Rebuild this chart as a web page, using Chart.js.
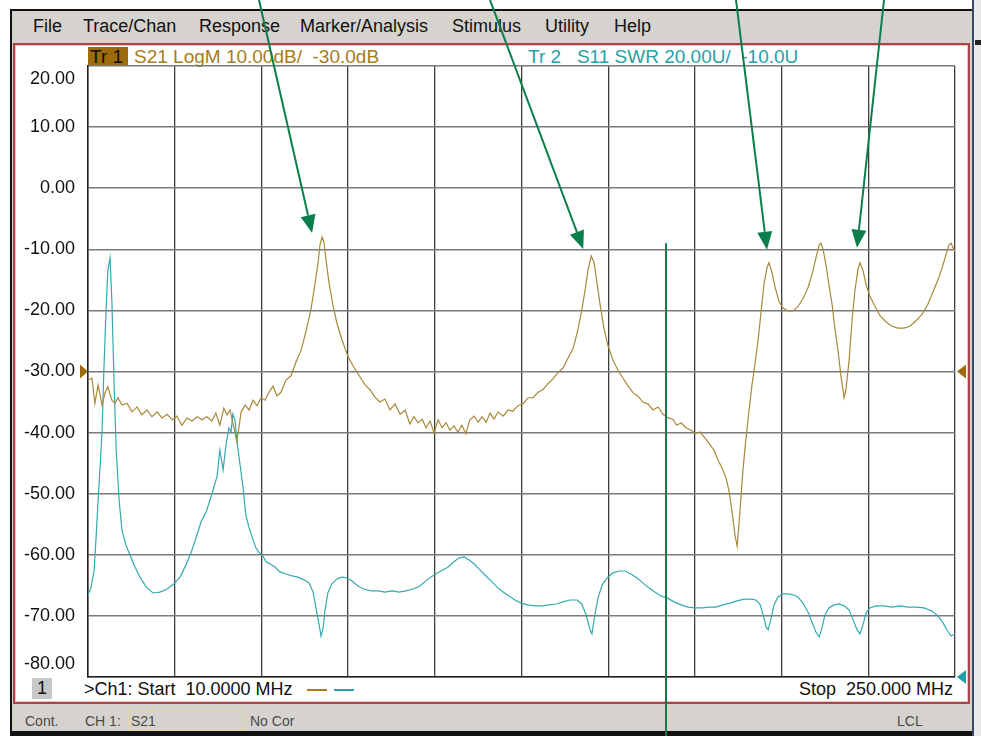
<!DOCTYPE html>
<html>
<head>
<meta charset="utf-8">
<script src="https://cdn.jsdelivr.net/npm/chart.js@4.4.1/dist/chart.umd.min.js"></script>
<style>
  html, body { margin: 0; padding: 0; background: #fff; }
  body { width: 981px; height: 736px; position: relative; overflow: hidden;
         font-family: "Liberation Sans", Arial, sans-serif; }
  .abs { position: absolute; white-space: pre; }
  #frame { left: 10px; top: 9px; width: 963px; height: 727px; background: #d6d3ce;
           border-top: 2px solid #111; border-left: 2px solid #111; border-bottom: 5px solid #111;
           box-sizing: border-box; }
  #rightStrip { left: 972px; top: 0; width: 9px; height: 736px; background: #e9e9e9;
                border-left: 2px solid #3a4a66; box-sizing: border-box; }
  #rightNub { left: 975px; top: 40px; width: 6px; height: 5px; background: #222; }
  .menu { top: 15px; font-size: 18px; line-height: 22px; color: #111; }
  #panel { left: 13px; top: 43px; width: 957px; height: 661px; background: #fff;
           border: 2px solid #a84646; box-shadow: inset 0 0 0 1px #e6c4c4; box-sizing: border-box; }
  .hdr { top: 46px; font-size: 19px; line-height: 21px; }
  #tr1box { left: 88px; top: 47px; width: 40px; height: 19px; background: #9c6c0c; }
  .status { top: 711px; font-size: 14px; line-height: 20px; color: #4a4a4a; }
  #s21box { left: 128px; top: 711px; width: 116px; height: 20px; border: 1px solid #e4dc98;
            box-sizing: border-box; }
  #chbox { left: 32px; top: 678px; width: 20px; height: 21px; background: #c8c8c8;
           font-size: 18px; line-height: 21px; text-align: center; color: #111; }
  .foot { top: 679px; font-size: 18px; line-height: 21px; color: #111; }
  .swatch { top: 689px; width: 20px; height: 2px; }
  #chart { position: absolute; left: 0; top: 0; }
</style>
</head>
<body>
<div id="frame" class="abs"></div>
<div id="rightStrip" class="abs"></div>
<div id="rightNub" class="abs"></div>

<div class="abs menu" style="left:33px">File</div>
<div class="abs menu" style="left:83px">Trace/Chan</div>
<div class="abs menu" style="left:199px">Response</div>
<div class="abs menu" style="left:300px">Marker/Analysis</div>
<div class="abs menu" style="left:452px">Stimulus</div>
<div class="abs menu" style="left:545px">Utility</div>
<div class="abs menu" style="left:614px">Help</div>

<div id="panel" class="abs"></div>

<div id="tr1box" class="abs"></div>
<div class="abs hdr" style="left:90px;color:#111">Tr 1</div>
<div class="abs hdr" style="left:134px;color:#a67c1c">S21 LogM 10.00dB/  -30.0dB</div>
<div class="abs hdr" style="left:528px;color:#27a0a6">Tr 2   S11 SWR 20.00U/  -10.0U</div>

<div id="chbox" class="abs">1</div>
<div class="abs foot" style="left:84px">&gt;Ch1: Start  10.0000 MHz</div>
<div class="abs swatch" style="left:307px;background:#a67c1c"></div>
<div class="abs swatch" style="left:334px;background:#27a0a6"></div>
<div class="abs foot" style="right:28px">Stop  250.000 MHz</div>

<div class="abs status" style="left:25px">Cont.</div>
<div class="abs status" style="left:85px">CH 1:</div>
<div id="s21box" class="abs"></div>
<div class="abs status" style="left:131px">S21</div>
<div class="abs status" style="left:250px">No Cor</div>
<div class="abs status" style="left:897px">LCL</div>

<canvas id="chart" width="981" height="736"></canvas>

<script>
// Sweep settings
const startMHz = 10;
const stopMHz = 250;
const freqStepMHz = 24;

// Tr 1: S21 LogM (dB)
const freqS21 = [
  10.0,11.1,11.9,12.8,13.9,14.7,15.5,16.6,17.5,18.3,
  19.4,20.8,22.2,23.6,24.9,26.3,27.7,29.1,30.5,31.9,
  33.3,34.6,36.0,37.4,38.8,40.2,41.6,42.9,44.3,45.4,
  46.5,47.6,48.5,49.3,50.4,51.2,52.4,53.5,54.6,55.7,
  56.8,57.9,59.0,60.1,61.2,62.3,63.4,64.8,66.2,67.6,
  69.0,70.3,71.7,72.8,73.7,74.2,74.8,75.3,75.9,76.7,
  77.8,78.9,80.3,82.0,83.6,85.3,86.7,88.1,89.4,90.8,
  92.2,93.6,95.0,96.4,97.8,99.1,100.2,101.4,102.5,103.6,
  104.7,105.8,106.9,108.0,109.1,110.2,111.3,112.4,113.5,114.6,
  115.7,116.9,118.0,119.1,120.2,121.3,122.4,123.5,124.9,126.3,
  127.6,129.0,130.4,131.8,133.2,134.6,135.9,137.3,138.7,140.1,
  141.5,142.9,144.3,145.6,146.7,147.6,148.4,149.3,150.1,150.9,
  151.7,152.8,153.9,155.3,156.7,158.1,159.5,160.9,162.2,163.6,
  165.0,166.4,167.8,169.2,170.6,171.9,173.0,174.2,175.5,176.9,
  178.3,179.4,180.8,182.2,183.3,184.4,185.5,186.6,187.4,188.3,
  189.1,189.7,190.5,191.3,192.1,193.0,193.8,194.6,195.5,196.3,
  197.1,198.0,198.5,199.3,200.2,201.3,202.4,203.8,205.2,206.5,
  207.9,209.3,210.4,211.5,212.4,212.9,213.5,214.3,215.1,216.0,
  216.8,217.6,218.4,219.3,219.8,220.7,221.5,222.3,223.2,223.7,
  224.5,225.4,226.4,227.9,229.2,230.9,232.6,234.2,235.9,237.5,
  239.2,240.9,242.5,243.9,245.3,246.4,247.5,248.3,248.9,250.0
];
const s21dB = [
  -31.4,-31.1,-35.2,-32.2,-35.5,-33.5,-32.5,-34.7,-35.2,-34.3,
  -35.5,-35.2,-36.6,-35.8,-37.1,-36.3,-37.4,-36.6,-37.6,-37.0,
  -37.9,-37.3,-38.8,-37.6,-38.1,-37.4,-37.9,-37.4,-38.1,-36.8,
  -38.8,-36.0,-37.1,-36.3,-39.2,-41.5,-36.6,-35.5,-36.3,-34.7,
  -35.6,-34.3,-34.7,-33.4,-32.4,-34.0,-33.4,-31.4,-30.7,-28.4,
  -26.5,-23.5,-19.9,-15.8,-12.1,-9.3,-8.0,-8.8,-11.8,-15.4,
  -19.1,-22.1,-24.8,-27.6,-29.3,-30.9,-32.2,-33.0,-34.2,-35.0,
  -34.5,-36.3,-35.3,-37.0,-36.3,-38.6,-37.4,-38.4,-37.8,-39.2,
  -38.1,-40.1,-37.9,-39.2,-38.4,-39.6,-38.9,-39.9,-38.8,-40.2,
  -37.9,-37.3,-38.3,-37.4,-38.3,-36.8,-37.8,-36.6,-37.3,-36.3,
  -36.5,-35.6,-35.3,-34.3,-34.3,-33.4,-33.0,-32.0,-31.2,-30.2,
  -29.4,-27.8,-26.2,-23.2,-19.9,-16.7,-13.4,-11.1,-12.2,-15.5,
  -18.8,-22.9,-25.7,-28.1,-29.8,-31.1,-32.4,-33.5,-34.0,-35.0,
  -35.3,-36.3,-35.8,-37.0,-37.6,-37.8,-38.8,-38.4,-39.2,-39.6,
  -40.1,-39.9,-40.9,-42.0,-42.9,-44.5,-45.8,-47.4,-49.4,-53.0,
  -56.8,-58.6,-52.7,-46.1,-41.2,-36.3,-32.2,-28.9,-24.8,-20.3,
  -15.8,-12.9,-12.2,-13.7,-16.2,-18.6,-19.6,-20.1,-20.1,-19.4,
  -18.1,-16.3,-14.2,-11.4,-9.3,-9.0,-10.1,-12.6,-15.8,-19.1,
  -23.2,-26.5,-30.6,-34.3,-33.0,-28.1,-21.6,-16.7,-13.1,-12.2,
  -13.4,-15.8,-17.6,-19.4,-20.8,-21.9,-22.6,-22.9,-22.9,-22.6,
  -21.7,-20.6,-19.0,-17.0,-15.0,-13.1,-10.9,-9.3,-9.0,-10.4
];

// Tr 2: S11 SWR (U)
const freqS11 = [
  10.0,10.8,11.7,12.2,12.8,13.3,13.9,14.4,15.0,15.5,
  16.1,16.6,17.2,17.8,18.6,19.4,20.5,21.6,23.0,24.4,
  26.1,28.0,29.9,31.9,33.8,35.5,37.1,38.5,39.9,41.3,
  42.7,43.8,44.6,45.7,46.5,47.4,48.2,49.0,49.6,50.1,
  50.7,51.2,52.1,52.9,53.7,54.6,55.7,56.5,57.3,58.4,
  59.3,60.4,61.8,63.1,64.8,66.5,68.1,69.8,71.2,72.3,
  73.1,74.0,74.5,75.1,75.6,76.4,77.5,78.9,80.3,81.7,
  83.1,84.7,86.4,88.3,90.3,92.2,94.2,96.1,98.0,100.0,
  101.9,103.8,105.8,107.7,109.7,111.3,112.7,114.1,115.5,116.9,
  118.2,119.9,121.6,123.2,124.9,126.5,128.2,129.9,131.8,133.7,
  135.7,137.6,139.6,141.5,143.4,145.4,146.7,147.9,149.0,149.5,
  150.3,151.2,152.3,153.7,155.3,157.0,158.6,160.3,162.0,163.6,
  165.3,166.9,168.6,170.3,172.2,174.2,176.1,178.0,180.0,181.9,
  183.8,185.8,187.7,189.7,191.6,193.5,194.9,196.0,196.9,197.7,
  198.3,199.1,199.9,201.0,202.4,203.8,205.2,206.5,207.9,209.3,
  210.4,211.5,212.4,213.2,214.0,215.1,216.5,217.9,219.3,220.7,
  221.8,222.9,223.7,224.5,225.4,226.4,228.1,230.3,232.6,234.8,
  237.0,239.2,241.4,243.6,245.3,246.7,247.8,248.9,250.0
];
const s11SWR = [
  16.9,19.1,25.0,34.9,48.0,57.8,70.9,90.5,110.1,123.2,
  127.2,113.4,87.2,64.3,48.0,38.1,33.2,30.0,26.0,22.7,
  19.5,17.5,17.8,18.8,20.5,22.7,26.7,30.6,35.5,40.8,
  44.0,48.0,51.2,55.5,64.3,57.8,66.0,71.5,70.2,76.1,
  74.1,67.6,59.4,52.2,43.0,38.8,34.9,32.2,30.9,29.6,
  27.7,27.0,26.0,24.4,23.7,23.1,22.7,21.8,20.8,17.8,
  12.6,7.0,3.4,6.1,11.9,17.5,20.5,22.1,22.7,22.4,
  21.4,19.8,18.8,18.2,18.2,17.8,18.2,17.8,18.2,18.8,
  19.8,21.8,23.4,24.7,26.0,27.7,29.0,29.3,28.3,27.0,
  25.4,23.4,21.4,19.5,17.8,16.5,15.2,14.2,13.6,13.3,
  13.3,13.6,13.9,14.6,15.2,15.2,13.9,10.3,5.4,4.1,
  10.3,15.9,20.1,22.4,24.1,24.7,24.7,23.7,22.4,20.8,
  19.1,17.8,16.5,15.9,14.6,13.6,12.9,12.6,12.6,12.9,
  12.9,13.6,14.2,14.9,15.5,15.5,15.2,13.9,10.3,6.4,
  5.4,9.3,13.6,16.2,17.2,17.2,16.9,16.2,14.2,11.3,
  8.0,4.7,3.1,6.1,10.3,12.6,13.6,13.9,13.3,11.9,
  8.7,5.4,4.1,7.0,11.0,12.6,13.3,13.3,12.9,13.3,
  12.9,12.9,12.6,11.6,10.0,7.7,5.4,3.4,4.1
];

// Display scales: Tr 1 10 dB/div ref -30 dB, Tr 2 20 U/div ref -10 U
const dbTicks = [20, 10, 0, -10, -20, -30, -40, -50, -60, -70, -80];
const s21Ref = -30;
const s11Ref = -10;
const s11Top = 190;

// Resonances called out with arrows (MHz), and the marker line (MHz, top level in dB)
const calloutMHz = [74.8, 149.3, 198.5, 223.7];
const calloutTailX = [259, 490, 736, 884];
const calloutTipShift = [[-10, -4], [-8, -7], [-2, -13], [-3, -15]];
const markerMHz = 170;
const markerTopDb = -9;

const S21_COLOR = '#a8883a';
const S11_COLOR = '#35a9b0';
const CALLOUT_COLOR = '#0a7f4c';

const toPoints = (xs, ys) => xs.map((x, i) => ({ x: x, y: ys[i] }));

function triangle(ctx, x1, y1, x2, y2, x3, y3, color) {
  ctx.beginPath();
  ctx.moveTo(x1, y1); ctx.lineTo(x2, y2); ctx.lineTo(x3, y3);
  ctx.closePath();
  ctx.fillStyle = color;
  ctx.fill();
}

const overlay = {
  id: 'overlay',
  afterDraw(chart) {
    const ctx = chart.ctx;
    const xs = chart.scales.x, ys = chart.scales.y, y2 = chart.scales.y2;
    const area = chart.chartArea;
    ctx.save();

    // reference level pointers
    const yr1 = ys.getPixelForValue(s21Ref);
    triangle(ctx, area.left - 8, yr1 - 7, area.left - 8, yr1 + 7, area.left, yr1, '#9c6c0c');
    triangle(ctx, area.right + 11, yr1 - 7, area.right + 11, yr1 + 7, area.right + 2, yr1, '#9c6c0c');
    const yr2 = y2.getPixelForValue(s11Ref);
    triangle(ctx, area.right + 11, yr2 - 7, area.right + 11, yr2 + 7, area.right + 2, yr2, '#1ea0a8');

    // marker line
    const mx = xs.getPixelForValue(markerMHz);
    ctx.strokeStyle = CALLOUT_COLOR;
    ctx.lineWidth = 2;
    ctx.beginPath();
    ctx.moveTo(mx, ys.getPixelForValue(markerTopDb));
    ctx.lineTo(mx, chart.height);
    ctx.stroke();

    // callout arrows pointing at the S21 resonances
    calloutMHz.forEach((f, i) => {
      const idx = freqS21.indexOf(f);
      const px = xs.getPixelForValue(f) + calloutTipShift[i][0];
      const py = ys.getPixelForValue(s21dB[idx]) + calloutTipShift[i][1];
      const tx = calloutTailX[i], ty = 0;
      const ang = Math.atan2(py - ty, px - tx);
      const headLen = 18, headHalf = 7.5;
      const bx = px - headLen * Math.cos(ang), by = py - headLen * Math.sin(ang);
      ctx.strokeStyle = CALLOUT_COLOR;
      ctx.lineWidth = 2;
      ctx.beginPath();
      ctx.moveTo(tx, ty);
      ctx.lineTo(bx, by);
      ctx.stroke();
      const nx = -Math.sin(ang) * headHalf, ny = Math.cos(ang) * headHalf;
      triangle(ctx, px, py, bx + nx, by + ny, bx - nx, by - ny, CALLOUT_COLOR);
    });

    ctx.restore();
  }
};

new Chart(document.getElementById('chart'), {
  type: 'line',
  data: {
    datasets: [
      { label: 'S21', data: toPoints(freqS21, s21dB), yAxisID: 'y',
        borderColor: S21_COLOR, borderWidth: 1.2, pointRadius: 0, tension: 0, order: 1 },
      { label: 'S11', data: toPoints(freqS11, s11SWR), yAxisID: 'y2',
        borderColor: S11_COLOR, borderWidth: 1.2, pointRadius: 0, tension: 0, order: 2 }
    ]
  },
  options: {
    responsive: false,
    animation: false,
    events: [],
    layout: { padding: { left: 0, top: 66, right: 26, bottom: 59 } },
    plugins: { legend: { display: false }, tooltip: { enabled: false } },
    scales: {
      x: {
        type: 'linear', min: startMHz, max: stopMHz,
        ticks: { display: false, stepSize: freqStepMHz },
        grid: { color: '#3e3e3e', lineWidth: 1.3, drawTicks: false },
        border: { color: '#222', width: 1.5 },
        afterFit(scale) { scale.height = 0; scale.paddingLeft = 0; scale.paddingRight = 0; }
      },
      y: {
        type: 'linear', min: dbTicks[dbTicks.length - 1], max: dbTicks[0],
        afterBuildTicks(scale) { scale.ticks = dbTicks.map(v => ({ value: v })); },
        ticks: {
          color: '#111', padding: 13,
          font: { family: '"Liberation Sans", Arial, sans-serif', size: 18, lineHeight: 1.45 },
          callback(v) {
            const s = v.toFixed(2);
            if (v === dbTicks[0]) return ['', s];
            if (v === dbTicks[dbTicks.length - 1]) return [s, ''];
            return s;
          }
        },
        grid: { color: '#7a7a7a', lineWidth: 1.5, drawTicks: false },
        border: { color: '#222', width: 1.5 },
        afterFit(scale) { scale.width = 88; scale.paddingTop = 0; scale.paddingBottom = 0; }
      },
      y2: { type: 'linear', display: false, min: s11Ref, max: s11Top }
    }
  },
  plugins: [overlay]
});
</script>
</body>
</html>
